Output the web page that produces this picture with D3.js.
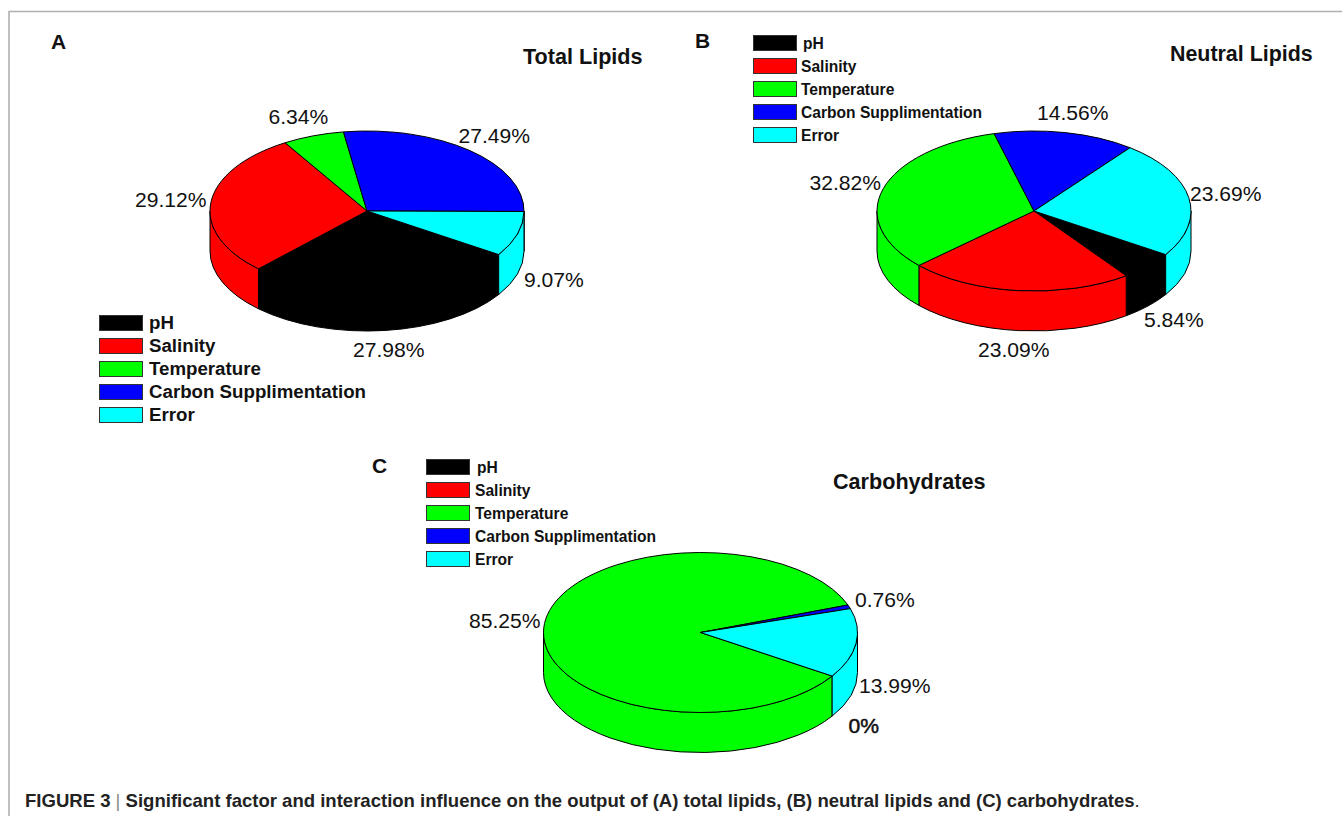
<!DOCTYPE html>
<html><head><meta charset="utf-8">
<script src="https://cdn.jsdelivr.net/npm/d3@7"></script>
<style>
html,body{margin:0;padding:0;background:#fff}
svg{display:block}
text{font-family:"Liberation Sans",Arial,sans-serif;fill:#111}
.bold{font-weight:700}
</style></head><body>
<svg id="c" width="1342" height="816"></svg>
<script>
// ---- data ----
const categories = ["pH","Salinity","Temperature","Carbon Supplimentation","Error"];
const colors = ["#000000","#ff0000","#00ff00","#0000ff","#00ffff"];
const totalLipids = [27.98,29.12,6.34,27.49,9.07];
const neutralLipids = [5.84,23.09,32.82,14.56,23.69];
const carbohydrates = [0,0,85.25,0.76,13.99];

// ---- layout ----
const W=1342,H=816,rx=157,ry=80,depth=40;
const startDeg=123;
const svg=d3.select("#c");
const colorScale=d3.scaleOrdinal(categories,colors);

const panels=[
 {letter:"A",lx:51,ly:49,title:"Total Lipids",tx:523,ty:64,tfs:21.6,cx:367,cy:211,values:totalLipids,
  legend:{x:99.5,y:315.5,textX:149,pHX:149,fs:18.7,w:43,h:15,step:23,dy:13.5},
  labels:[[353,357],[135,207],[268.5,124],[458.5,143],[524,287]]},
 {letter:"B",lx:695,ly:48,title:"Neutral Lipids",tx:1170,ty:61,tfs:21.4,cx:1034,cy:211,values:neutralLipids,
  legend:{x:753.5,y:35.5,textX:801,pHX:803,fs:15.6,w:43,h:15,step:23,dy:13},
  labels:[[1144,327],[978,357],[809.5,190],[1037,120],[1190,201]]},
 {letter:"C",lx:372,ly:473,title:"Carbohydrates",tx:833,ty:489,tfs:21.6,cx:700.5,cy:632.5,values:carbohydrates,
  legend:{x:426.5,y:459.5,textX:475,pHX:477,fs:15.6,w:43,h:15,step:23,dy:13},
  labels:[[848.5,733],null,[469,628],[855,606.5],[859,693]]}
];

// frame
svg.append("path").attr("d",`M9 816V11.5H${W}`).attr("fill","none").attr("stroke","#b0b0b0").attr("stroke-width",1.6);

const pie=d3.pie().sort(null).value(d=>d)
  .startAngle(startDeg*Math.PI/180).endAngle((startDeg+360)*Math.PI/180);
const arc=d3.arc().innerRadius(0).outerRadius(rx);
const px=a=>rx*Math.sin(a), py=a=>-ry*Math.cos(a);
const fmt=v=>v===0?"0%":d3.format(".2f")(v)+"%";

function wall(a0,a1){
  return `M${px(a0)} ${py(a0)}A${rx} ${ry} 0 0 1 ${px(a1)} ${py(a1)}V${py(a1)+depth}A${rx} ${ry} 0 0 0 ${px(a0)} ${py(a0)+depth}Z`;
}
const frontRanges=[[Math.PI/2,3*Math.PI/2],[5*Math.PI/2,7*Math.PI/2]];

panels.forEach(p=>{
  const arcs=pie(p.values).map((d,i)=>({...d,cat:categories[i]}));
  const g=svg.append("g").attr("transform",`translate(${p.cx},${p.cy})`);
  // side walls
  arcs.filter(d=>d.value>0).forEach(d=>{
    frontRanges.forEach(([f0,f1])=>{
      const a0=Math.max(d.startAngle,f0),a1=Math.min(d.endAngle,f1);
      if(a1>a0) g.append("path").attr("d",wall(a0,a1)).attr("fill",colorScale(d.cat))
        .attr("stroke","#000").attr("stroke-width",1).attr("stroke-linejoin","round");
    });
  });
  // top surface
  g.append("g").attr("transform",`scale(1,${ry/rx})`).selectAll("path")
    .data(arcs.filter(d=>d.value>0)).join("path")
    .attr("d",arc).attr("fill",d=>colorScale(d.cat))
    .attr("stroke","#000").attr("stroke-width",1).attr("vector-effect","non-scaling-stroke").attr("stroke-linejoin","round");
  // value labels
  arcs.forEach((d,i)=>{
    const pos=p.labels[i]; if(!pos) return;
    const t=svg.append("text").attr("x",pos[0]).attr("y",pos[1]).attr("font-size",21.1).text(fmt(d.value));
    if(d.value===0) t.attr("stroke","#111").attr("stroke-width",0.5);
  });
  // legend
  const L=p.legend;
  categories.forEach((c,i)=>{
    svg.append("rect").attr("x",L.x).attr("y",L.y+i*L.step).attr("width",L.w).attr("height",L.h)
      .attr("fill",colorScale(c)).attr("stroke","#333").attr("stroke-width",1);
    svg.append("text").attr("class","bold").attr("x",i===0?L.pHX:L.textX).attr("y",L.y+i*L.step+L.dy)
      .attr("font-size",L.fs).text(c);
  });
  svg.append("text").attr("class","bold").attr("x",p.lx).attr("y",p.ly).attr("font-size",21).text(p.letter);
  svg.append("text").attr("class","bold").attr("x",p.tx).attr("y",p.ty).attr("font-size",p.tfs).text(p.title);
});

// caption
const cap=svg.append("text").attr("x",25).attr("y",807).attr("font-size",18.55).style("fill","#222");
cap.append("tspan").attr("class","bold").text("FIGURE 3");
cap.append("tspan").style("fill","#888").text(" | ");
cap.append("tspan").attr("class","bold").text("Significant factor and interaction influence on the output of (A) total lipids, (B) neutral lipids and (C) carbohydrates");
cap.append("tspan").text(".");
</script>
</body></html>
